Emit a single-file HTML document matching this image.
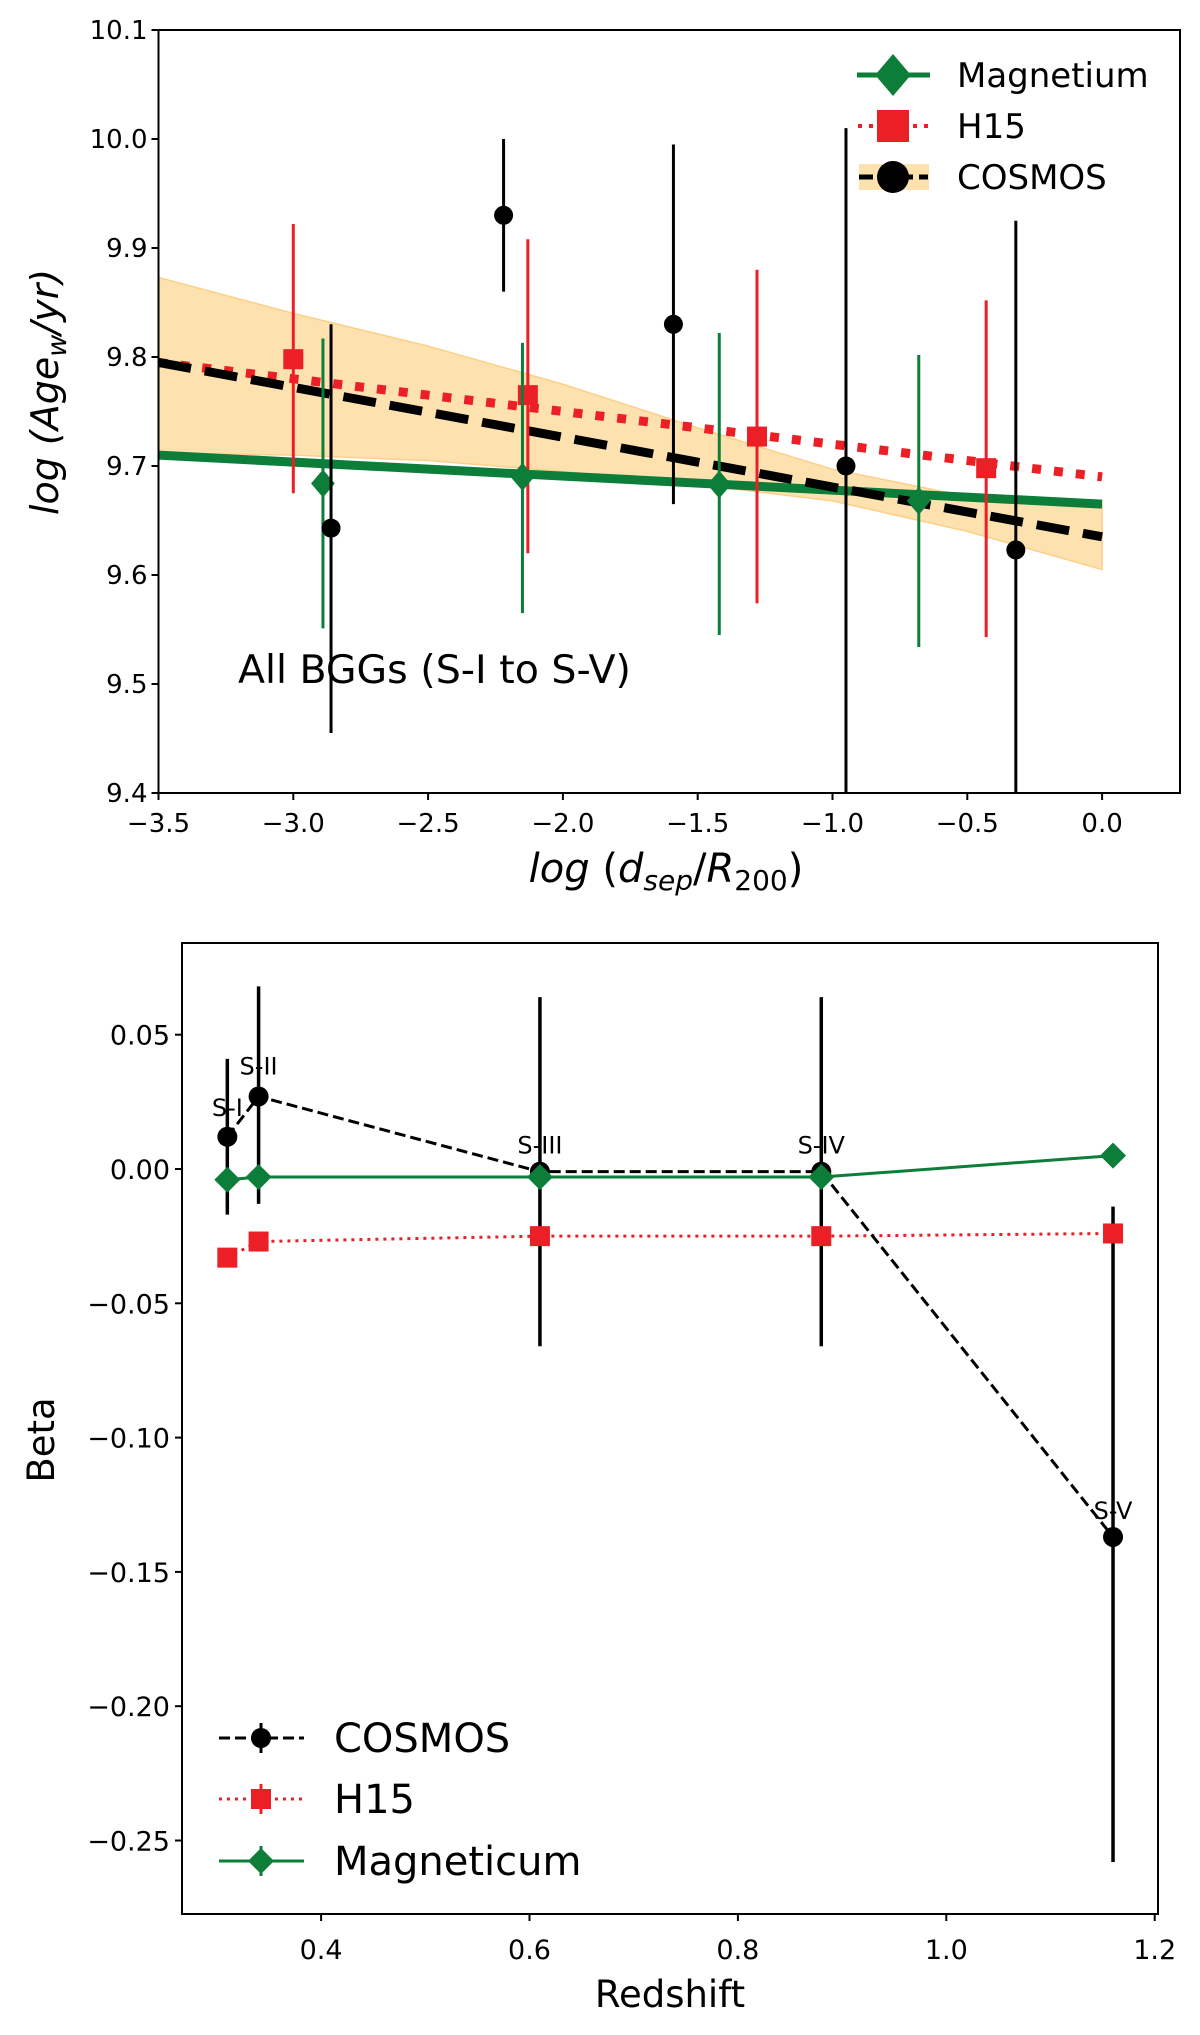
<!DOCTYPE html>
<html><head><meta charset="utf-8"><style>
html,body{margin:0;padding:0;background:#fff;}
svg{display:block;font-family:"DejaVu Sans","Liberation Sans",sans-serif;}
</style></head><body>
<svg id="fig" width="1200" height="2035" viewBox="0 0 1200 2035" xmlns="http://www.w3.org/2000/svg">
<g id="top"></g>
<g id="bot"></g>
</svg>
<script>
// ---- Top chart data ----
const cosX=[-2.86,-2.22,-1.59,-0.95,-0.32];
const cosY=[9.643,9.93,9.83,9.70,9.623];
const cosLo=[9.455,9.86,9.665,9.40,9.40];
const cosHi=[9.83,10.0,9.995,10.01,9.925];
const h15X=[-3.0,-2.13,-1.28,-0.43];
const h15Y=[9.798,9.765,9.727,9.698];
const h15Lo=[9.675,9.62,9.574,9.543];
const h15Hi=[9.922,9.908,9.88,9.852];
const magX=[-2.89,-2.15,-1.42,-0.68];
const magY=[9.684,9.690,9.683,9.668];
const magLo=[9.551,9.565,9.545,9.534];
const magHi=[9.817,9.813,9.822,9.802];
const fitX=[-3.5,0.0];
const cosFit=[9.795,9.635];
const h15Fit=[9.795,9.69];
const magFit=[9.71,9.665];
const bandX=[-3.5,-3.0,-2.5,-2.0,-1.5,-1.0,-0.5,0.0];
const bandHi=[9.873,9.84,9.81,9.775,9.735,9.697,9.672,9.665];
const bandLo=[9.712,9.71,9.705,9.695,9.683,9.668,9.64,9.605];
const topXTicks=[-3.5,-3.0,-2.5,-2.0,-1.5,-1.0,-0.5,0.0];
const topXLabels=["−3.5","−3.0","−2.5","−2.0","−1.5","−1.0","−0.5","0.0"];
const topYTicks=[9.4,9.5,9.6,9.7,9.8,9.9,10.0,10.1];
const topYLabels=["9.4","9.5","9.6","9.7","9.8","9.9","10.0","10.1"];
// ---- Bottom chart data ----
const zVals=[0.31,0.34,0.61,0.88,1.16];
const stageLabels=["S-I","S-II","S-III","S-IV","S-V"];
const betaCos=[0.012,0.027,-0.001,-0.001,-0.137];
const betaCosLo=[-0.017,-0.013,-0.066,-0.066,-0.258];
const betaCosHi=[0.041,0.068,0.064,0.064,-0.014];
const betaH15=[-0.033,-0.027,-0.025,-0.025,-0.024];
const betaMag=[-0.004,-0.003,-0.003,-0.003,0.005];
const botXTicks=[0.4,0.6,0.8,1.0,1.2];
const botXLabels=["0.4","0.6","0.8","1.0","1.2"];
const botYTicks=[-0.25,-0.20,-0.15,-0.10,-0.05,0.00,0.05];
const botYLabels=["−0.25","−0.20","−0.15","−0.10","−0.05","0.00","0.05"];

const NS="http://www.w3.org/2000/svg";
function mk(p,tag,at,txt){const e=document.createElementNS(NS,tag);for(const k in at)e.setAttribute(k,at[k]);if(txt!==undefined)e.textContent=txt;p.appendChild(e);return e;}
const GREEN="#0d7e3a",RED="#ec1f26",ORANGE="#fde2b0";

// ===== TOP =====
const T=document.getElementById('top');
const tL=158.5,tR=1180,tT=30,tB=793;
const tx=v=>tL+(v+3.5)*269.6;
const ty=v=>tB-(v-9.4)*1090;
let d="";bandX.forEach((x,i)=>{d+=(i?"L":"M")+tx(x)+","+ty(bandHi[i]);});
for(let i=bandX.length-1;i>=0;i--)d+="L"+tx(bandX[i])+","+ty(bandLo[i]);
let e=mk(T,'path',{d:d+"Z",fill:ORANGE,stroke:"#fcd08a","stroke-width":1.5});


e=mk(T,'line',{x1:tx(fitX[0]),y1:ty(magFit[0]),x2:tx(fitX[1]),y2:ty(magFit[1]),stroke:GREEN,"stroke-width":9});


e=mk(T,'line',{x1:tx(fitX[0]),y1:ty(h15Fit[0]),x2:tx(fitX[1]),y2:ty(h15Fit[1]),stroke:RED,"stroke-width":9,"stroke-dasharray":"9,13"});


e=mk(T,'line',{x1:tx(fitX[0]),y1:ty(cosFit[0]),x2:tx(fitX[1]),y2:ty(cosFit[1]),stroke:"#000","stroke-width":9,"stroke-dasharray":"33,14"});


function diamond(p,cx,cy,r,fill,w){w=w||1;return mk(p,'polygon',{points:`${cx},${cy-r} ${cx+r*w},${cy} ${cx},${cy+r} ${cx-r*w},${cy}`,fill:fill});}
h15X.forEach((x,i)=>{
  e=mk(T,'line',{x1:tx(x),x2:tx(x),y1:ty(h15Lo[i]),y2:ty(h15Hi[i]),stroke:RED,"stroke-width":3});
  
  
  e=mk(T,'rect',{x:tx(x)-10,y:ty(h15Y[i])-10,width:20,height:20,fill:RED});
  
  
});
magX.forEach((x,i)=>{
  e=mk(T,'line',{x1:tx(x),x2:tx(x),y1:ty(magLo[i]),y2:ty(magHi[i]),stroke:GREEN,"stroke-width":3});
  
  
  e=diamond(T,tx(x),ty(magY[i]),14,GREEN,0.85);
  
  
});
cosX.forEach((x,i)=>{
  e=mk(T,'line',{x1:tx(x),x2:tx(x),y1:ty(cosLo[i]),y2:ty(cosHi[i]),stroke:"#000","stroke-width":3});
  
  
  e=mk(T,'circle',{cx:tx(x),cy:ty(cosY[i]),r:9.5,fill:"#000"});
  
  
});
e=mk(T,'rect',{x:tL,y:tT,width:tR-tL,height:tB-tT,fill:"none",stroke:"#000","stroke-width":2});


topXTicks.forEach((v,i)=>{
  mk(T,'line',{x1:tx(v),x2:tx(v),y1:tB,y2:tB+7,stroke:"#000","stroke-width":2});
  e=mk(T,'text',{x:tx(v),y:tB+39,"font-size":26,"text-anchor":"middle"},topXLabels[i]);
  
  
});
topYTicks.forEach((v,i)=>{
  mk(T,'line',{x1:tL-7,x2:tL,y1:ty(v),y2:ty(v),stroke:"#000","stroke-width":2});
  e=mk(T,'text',{x:tL-11,y:ty(v)+9,"font-size":26,"text-anchor":"end"},topYLabels[i]);
  
  
});
e=mk(T,'text',{x:238,y:683,"font-size":39.5},"All BGGs (S-I to S-V)");


e=mk(T,'text',{x:666,y:882,"font-size":40,"text-anchor":"middle"});
e.innerHTML='<tspan font-style="italic">log</tspan> (<tspan font-style="italic">d</tspan><tspan font-style="italic" font-size="28" dy="8">sep</tspan><tspan dy="-8">/</tspan><tspan font-style="italic">R</tspan><tspan font-size="28" dy="8">200</tspan><tspan dy="-8">)</tspan>';


e=mk(T,'text',{x:0,y:0,"font-size":38,"text-anchor":"middle",transform:"translate(58,392) rotate(-90)","font-style":"italic"});
e.innerHTML='log (Age<tspan font-size="27" dy="8">w</tspan><tspan dy="-8">/yr)</tspan>';


const lg=mk(T,'g',{});


mk(lg,'line',{x1:857,x2:930,y1:75,y2:75,stroke:GREEN,"stroke-width":5});
diamond(lg,893,75,21,GREEN,0.85);
mk(lg,'text',{x:957,y:87,"font-size":34},"Magnetium");
mk(lg,'line',{x1:858,x2:930,y1:126,y2:126,stroke:RED,"stroke-width":4,"stroke-dasharray":"4,7"});
mk(lg,'rect',{x:877,y:110,width:32,height:32,fill:RED});
mk(lg,'text',{x:957,y:138,"font-size":34},"H15");
mk(lg,'rect',{x:859,y:164,width:70,height:26,fill:ORANGE});
mk(lg,'line',{x1:859,x2:928,y1:177,y2:177,stroke:"#000","stroke-width":5,"stroke-dasharray":"14,6"});
mk(lg,'circle',{cx:893,cy:177,r:16,fill:"#000"});
mk(lg,'text',{x:957,y:189,"font-size":34},"COSMOS");

// ===== BOTTOM =====
const B=document.getElementById('bot');
const bL=182,bR=1158,bT=943,bB=1914;
const bx=v=>bL+(v-0.2665)*1042;
const by=v=>1169-v*2686;
const poly=(arr)=>zVals.map((z,i)=>bx(z)+","+by(arr[i])).join(" ");
e=mk(B,'polyline',{points:poly(betaH15),fill:"none",stroke:RED,"stroke-width":3,"stroke-dasharray":"3,5"});


e=mk(B,'polyline',{points:poly(betaCos),fill:"none",stroke:"#000","stroke-width":3,"stroke-dasharray":"11,5"});


e=mk(B,'polyline',{points:poly(betaMag),fill:"none",stroke:GREEN,"stroke-width":3});


zVals.forEach((z,i)=>{
  e=mk(B,'line',{x1:bx(z),x2:bx(z),y1:by(betaCosLo[i]),y2:by(betaCosHi[i]),stroke:"#000","stroke-width":3.5});
  
  
  e=mk(B,'circle',{cx:bx(z),cy:by(betaCos[i]),r:10,fill:"#000"});
  
  
  e=mk(B,'rect',{x:bx(z)-10,y:by(betaH15[i])-10,width:20,height:20,fill:RED});
  
  
  e=diamond(B,bx(z),by(betaMag[i]),13,GREEN,1.0);
  
  
  const off=[0.007,0.0075,0.006,0.006,0.006][i];
  e=mk(B,'text',{x:bx(z),y:by(betaCos[i]+off)-2,"font-size":24,"text-anchor":"middle"},stageLabels[i]);
  
  
});
e=mk(B,'rect',{x:bL,y:bT,width:bR-bL,height:bB-bT,fill:"none",stroke:"#000","stroke-width":2});


botXTicks.forEach((v,i)=>{
  mk(B,'line',{x1:bx(v),x2:bx(v),y1:bB,y2:bB+7,stroke:"#000","stroke-width":2});
  e=mk(B,'text',{x:bx(v),y:bB+45,"font-size":27,"text-anchor":"middle"},botXLabels[i]);
  
  
});
botYTicks.forEach((v,i)=>{
  mk(B,'line',{x1:bL-7,x2:bL,y1:by(v),y2:by(v),stroke:"#000","stroke-width":2});
  e=mk(B,'text',{x:bL-12,y:by(v)+10,"font-size":27,"text-anchor":"end"},botYLabels[i]);
  
  
});
e=mk(B,'text',{x:670,y:2007,"font-size":37,"text-anchor":"middle"},"Redshift");


e=mk(B,'text',{x:0,y:0,"font-size":37,"text-anchor":"middle",transform:"translate(54,1440) rotate(-90)"},"Beta");


const bl=mk(B,'g',{});


mk(bl,'line',{x1:219,x2:304,y1:1738,y2:1738,stroke:"#000","stroke-width":3,"stroke-dasharray":"11,5"});
mk(bl,'line',{x1:261,x2:261,y1:1723,y2:1753,stroke:"#000","stroke-width":3});
mk(bl,'circle',{cx:261,cy:1738,r:10,fill:"#000"});
mk(bl,'text',{x:334,y:1752,"font-size":40},"COSMOS");
mk(bl,'line',{x1:219,x2:304,y1:1799,y2:1799,stroke:RED,"stroke-width":3,"stroke-dasharray":"3,5"});
mk(bl,'line',{x1:261,x2:261,y1:1784,y2:1814,stroke:RED,"stroke-width":3});
mk(bl,'rect',{x:251,y:1789,width:20,height:20,fill:RED});
mk(bl,'text',{x:334,y:1813,"font-size":40},"H15");
mk(bl,'line',{x1:219,x2:304,y1:1861,y2:1861,stroke:GREEN,"stroke-width":3});
mk(bl,'line',{x1:261,x2:261,y1:1846,y2:1876,stroke:GREEN,"stroke-width":3});
diamond(bl,261,1861,13,GREEN,1.0);
mk(bl,'text',{x:334,y:1875,"font-size":40},"Magneticum");
</script>
</body></html>
